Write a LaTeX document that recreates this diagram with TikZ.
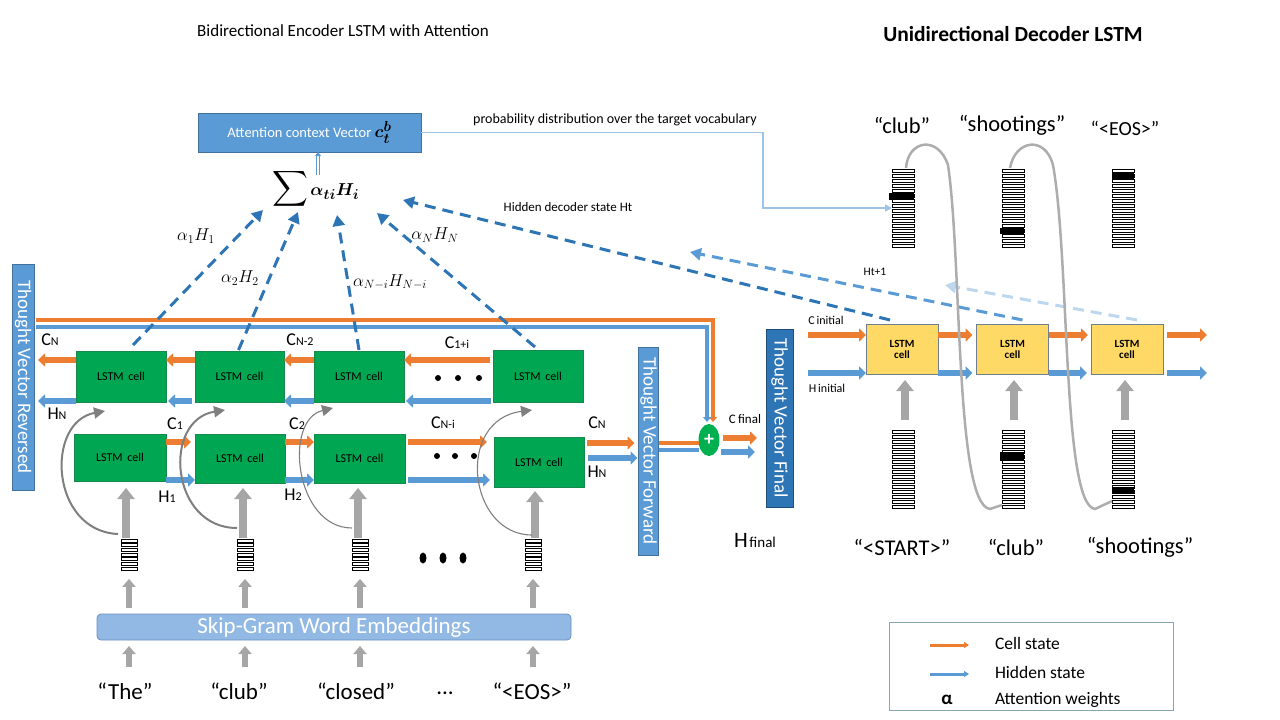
\documentclass[tikz,border=0pt]{standalone}
\usepackage{fontspec}
\setmainfont{Carlito}
\usepackage{amsmath}
\usepackage{bm}
\usetikzlibrary{arrows.meta,calc,shapes.geometric}
\definecolor{corange}{HTML}{ED7D31}
\definecolor{cblue}{HTML}{5B9BD5}
\definecolor{cbluedk}{HTML}{41719C}
\definecolor{cdash}{HTML}{2E75B6}
\definecolor{cdashlt}{HTML}{BDD7EE}
\definecolor{cfinal}{HTML}{2E75B6}
\definecolor{cfinaldk}{HTML}{1F4E79}
\definecolor{cgreen}{HTML}{00A651}
\definecolor{cgreendk}{HTML}{158A4C}
\definecolor{cplus}{HTML}{00B050}
\definecolor{cyellow}{HTML}{FFD966}
\definecolor{cycelldk}{HTML}{6F7F8F}
\definecolor{cskip}{HTML}{92B9E3}
\definecolor{cskipdk}{HTML}{6A90C0}
\definecolor{cgrayA}{HTML}{A6A6A6}
\definecolor{cgrayC}{HTML}{7F7F7F}
\definecolor{cgrayL}{HTML}{ADADAD}
\definecolor{cprob}{HTML}{9DC3E6}
\definecolor{clegend}{HTML}{86A5B5}
\newcommand{\fsz}[1]{\fontsize{#1}{#1}\selectfont}
\newcommand{\csub}[2]{{\fsz{18}#1}{\fsz{12}#2}}
\newcommand{\mystack}[6]{% name, x, ytop, ncells, cellh, width
  \node[minimum width=#6pt, minimum height=#4*#5pt, anchor=north] (#1) at (#2,#3) {};
  \foreach \k in {1,...,#4}{
    \draw[line width=0.45pt] ({#2-#6/2},{#3+(\k-1)*#5+0.9}) rectangle ({#2+#6/2},{#3+\k*#5-0.9});
  }
}
\begin{document}
\begin{tikzpicture}[x=1pt,y=-1pt,
  every node/.style={inner sep=0pt, outer sep=0pt},
  gcell/.style={draw=cgreendk, line width=0.8pt, fill=cgreen, font=\fsz{12}, text=black},
  ycell/.style={draw=cycelldk, line width=0.8pt, fill=cyellow, font=\fsz{11}\bfseries, align=center, minimum width=72pt, minimum height=50pt},
  tvbox/.style={fill=cblue, draw=cbluedk, line width=0.8pt, text=white, font=\fsz{19}, rotate=-90},
  carr/.style={draw=corange, line width=6pt, -{Triangle[length=7pt,width=13pt]}},
  harr/.style={draw=cblue, line width=6pt, -{Triangle[length=7pt,width=13pt]}},
  att/.style={draw=cdash, line width=3pt, dash pattern=on 11pt off 7pt, -{Triangle[length=11pt,width=12pt]}},
  garr/.style={draw=cgrayA, line width=8pt, -{Triangle[length=11pt,width=17pt]}},
  gsm/.style={draw=cgrayA, line width=6pt, -{Triangle[length=8pt,width=13pt]}},
  gcurve/.style={draw=cgrayC, -{Triangle[length=11pt,width=11pt]}},
  dloop/.style={draw=cgrayL, line width=2.5pt},
  lbl/.style={font=\fsz{17}},
  word/.style={font=\fsz{23}},
  dword/.style={font=\fsz{22.5}},
  small/.style={font=\fsz{12}}
]
\useasboundingbox (0,0) rectangle (1280,720);

% titles
\node[font=\fsz{17}] (t1) at (343,31) {Bidirectional Encoder LSTM with Attention};
\node[font=\fsz{21.5}\bfseries] (t2) at (1013,34) {Unidirectional Decoder LSTM};

% row coordinates
\coordinate (rCb) at (0,360);
\coordinate (rHb) at (0,401);
\coordinate (rC) at (0,442);
\coordinate (rH) at (0,480);
\coordinate (r443) at (0,443);
\coordinate (r458) at (0,458);
\coordinate (r450) at (0,450);
\coordinate (r438) at (0,438);
\coordinate (r452) at (0,452);
\coordinate (r320) at (0,320);
\coordinate (r327) at (0,327);
\coordinate (r335) at (0,335);
\coordinate (r373) at (0,373);
\coordinate (wrow) at (0,667);

% thought vector boxes (rotated: north = east side, south = west side)
\node[tvbox, minimum width=226pt, minimum height=22pt] (TVR) at (23,377) {Thought Vector Reversed};
\node[tvbox, minimum width=208pt, minimum height=20pt] (TVF) at (648.5,451) {Thought Vector Forward};
\node[tvbox, fill=cfinal, draw=cfinaldk, minimum width=178pt, minimum height=27pt] (TVFi) at (779.5,418) {Thought Vector Final};

% long top lines to the plus
\node[ellipse, fill=cplus, minimum width=21pt, minimum height=32pt, text=white, font=\fsz{20}\bfseries] (P) at (709,440) {+};
\draw[draw=corange, line width=3.5pt, -{Triangle[length=5pt,width=8pt]}] ([xshift=2pt]TVR.north |- r320) -| ($(P.north)+(4,-2)$);
\draw[draw=cblue, line width=3.5pt, -{Triangle[length=5pt,width=8pt]}] ([xshift=2pt]TVR.north |- r327) -| ($(P.north)+(-2,-2)$);

% encoder cells
\node[gcell, minimum width=90pt, minimum height=51pt] (B1) at (121,376.5) {LSTM\,\ cell};
\node[gcell, minimum width=89pt, minimum height=51pt] (B2) at (239.5,376.5) {LSTM\,\ cell};
\node[gcell, minimum width=90pt, minimum height=51pt] (B3) at (359,376.5) {LSTM\,\ cell};
\node[gcell, minimum width=90pt, minimum height=52pt] (B4) at (538,376) {LSTM\,\ cell};
\node[gcell, minimum width=92pt, minimum height=47pt] (F1) at (120,457.5) {LSTM\,\ cell};
\node[gcell, minimum width=90pt, minimum height=49pt] (F2) at (240,458.5) {LSTM\,\ cell};
\node[gcell, minimum width=91pt, minimum height=49pt] (F3) at (359.5,458.5) {LSTM\,\ cell};
\node[gcell, minimum width=90pt, minimum height=50pt] (F4) at (539,462) {LSTM\,\ cell};

% backward row arrows
\coordinate (bout) at (38,360);
\coordinate (bouth) at (38,401);
\draw[carr] (B1.west |- rCb) -- (bout);
\draw[harr] (B1.west |- rHb) -- (bouth);
\draw[carr] (B2.west |- rCb) -- (B1.east |- rCb);
\draw[harr] ([xshift=-3pt]B2.west |- rHb) -- ([xshift=2pt]B1.east |- rHb);
\draw[carr] (B3.west |- rCb) -- (B2.east |- rCb);
\draw[harr] (B3.west |- rHb) -- (B2.east |- rHb);
\draw[carr] ([xshift=-3pt]B4.west |- rCb) -- (B3.east |- rCb);
\draw[harr] ([xshift=-2pt]B4.west |- rHb) -- ([xshift=2pt]B3.east |- rHb);
\foreach \xx in {438,458,479} \fill (\xx,378) circle (3);

% forward row arrows
\draw[carr, shorten >=4pt] (F1.east |- rC) -- (F2.west |- rC);
\draw[harr] (F1.east |- rH) -- (F2.west |- rH);
\draw[carr] (F2.east |- rC) -- (F3.west |- rC);
\draw[harr] (F2.east |- rH) -- (F3.west |- rH);
\draw[carr, shorten <=3pt, shorten >=7pt] (F3.east |- rC) -- (F4.west |- rC);
\draw[harr, shorten <=3pt, shorten >=4pt] (F3.east |- rH) -- (F4.west |- rH);
\foreach \xx in {437,455,474} \fill (\xx,456) circle (3);
\draw[carr, shorten <=3pt, shorten >=4pt] (F4.east |- r443) -- (TVF.south |- r443);
\draw[harr, shorten <=4pt, shorten >=1pt] (F4.east |- r458) -- (TVF.south |- r458);

% forward thought vector to plus and to final
\draw[draw=corange, line width=3.5pt] (TVF.north |- r443) -- (P.west |- r443);
\draw[draw=cblue, line width=3.5pt] (TVF.north |- r450) -- (P.west |- r450);
\draw[carr, shorten <=3pt, shorten >=9pt] (P.east |- r438) -- (TVFi.south |- r438);
\draw[harr, shorten <=1pt, shorten >=11pt] (P.east |- r452) -- (TVFi.south |- r452);

% encoder labels
\node (lcn) at (50,340) {\csub{C}{N}};
\node (lhn) at (57,414) {\csub{H}{N}};
\node (lcn2) at (300,340) {\csub{C}{N-2}};
\node (lc1i) at (457,343) {\csub{C}{1+i}};
\node (lc1) at (175,424) {\csub{C}{1}};
\node (lh1) at (167,497) {\csub{H}{1}};
\node (lc2) at (297,424) {\csub{C}{2}};
\node (lh2) at (293,495) {\csub{H}{2}};
\node (lcni) at (443,423) {\csub{C}{N-i}};
\node (lcnf) at (597,423) {\csub{C}{N}};
\node (lhnf) at (597,472) {\csub{H}{N}};
\node[font=\fsz{13}] (lcfin) at (745,419) {C\,final};
\node (lhfin) at (755,540) {{\fsz{22}H}\,{\fsz{15}final}};

% embedding vectors (encoder)
\mystack{E1}{129}{538}{7}{4.7}{16}
\mystack{E2}{245}{538}{7}{4.7}{16}
\mystack{E3}{360}{538}{7}{4.7}{16}
\mystack{E4}{533}{538}{7}{4.7}{16}
\foreach \xx in {423,443,463} \fill (\xx,558) ellipse (3.5 and 5.5);

% gray input arrows (encoder)
\draw[garr, shorten >=7pt] ([xshift=-3pt]E1.north) -- ([xshift=-3pt]E1.north |- F1.south);
\draw[garr, shorten >=5pt] ([xshift=-2pt]E2.north) -- ([xshift=-2pt]E2.north |- F2.south);
\draw[garr, shorten >=5pt] ([xshift=-2pt]E3.north) -- ([xshift=-2pt]E3.north |- F3.south);
\draw[garr, shorten >=4pt] ([xshift=2pt]E4.north) -- ([xshift=2pt]E4.north |- F4.south);

% curved gray arrows
\coordinate (g1s) at (118,534); \coordinate (g1e) at (105,411);
\coordinate (g2s) at (237,528); \coordinate (g2e) at (225,410);
\coordinate (g3s) at (352,528); \coordinate (g3e) at (333,408);
\coordinate (g4s) at (532,535); \coordinate (g4e) at (532,410);
\draw[gcurve, line width=2pt] (g1s) .. controls (50,531) and (45,422) .. (g1e);
\draw[gcurve, line width=2pt] (g2s) .. controls (170,528) and (162,420) .. (g2e);
\draw[gcurve, line width=1.1pt] (g3s) .. controls (295,528) and (283,420) .. (g3e);
\draw[gcurve, line width=1.1pt] (g4s) .. controls (468,535) and (455,420) .. (g4e);

% skip-gram box and words
\node[draw=cskipdk, line width=0.8pt, fill=cskip, rounded corners=4pt, minimum width=474pt, minimum height=26pt, text=white, font=\fsz{23}] (K) at (334,627) {Skip-Gram Word Embeddings};
\foreach \e in {E1,E2,E3,E4}{
  \draw[gsm, shorten <=6pt, shorten >=8pt] (\e.south |- K.north) -- (\e.south);
  \draw[gsm, shorten >=6pt] (\e.south |- wrow) -- (\e.south |- K.south);
}
\node[word] (w1) at (125,691) {“The”};
\node[word] (w2) at (239,691) {“club”};
\node[word] (w3) at (356,691) {“closed”};
\node[word] (w4) at (445,693) {...};
\node[word] (w5) at (532,691) {“<EOS>”};

% attention part
\node[fill=cblue, draw=cbluedk, line width=0.8pt, minimum width=223pt, minimum height=39pt, text=white, font=\fsz{14.5}] (A) at (309.5,132.5) {Attention context Vector \textcolor{black}{\fsz{19}$\bm{c_t^b}$}};
\node (S) at (316,189) {{\fsz{25}$\displaystyle\sum$}\,{\fsz{19}$\bm{\alpha_{ti}H_i}$}};
\coordinate (sa) at (318,175);
\draw[draw=cblue, line width=1pt, double distance=1.6pt, -{Triangle[length=4pt,width=6pt]}] (sa) -- (sa |- A.south);

\node[font=\fsz{17}] (la1) at (196,236) {$\alpha_1H_1$};
\node[font=\fsz{17}] (la2) at (240,278) {$\alpha_2H_2$};
\node[font=\fsz{17}] (la3) at (390,282) {$\alpha_{N-i}H_{N-i}$};
\node[font=\fsz{17}] (la4) at (435,235) {$\alpha_NH_N$};

\coordinate (s1) at (263,210);
\coordinate (s2) at (298,212);
\coordinate (s3) at (337,215);
\coordinate (s4) at (377,213);
\coordinate (s5) at (403,200);
\coordinate (s6) at (690,252);
\coordinate (s7) at (945,285);
\draw[att] ($(B1.north)+(12,-6)$) -- (s1);
\draw[att] ($(B2.north)+(-1,-1)$) -- (s2);
\draw[att] ($(B3.north)+(0,-1)$) -- (s3);
\draw[att] ($(B4.north)+(-3,-3)$) -- (s4);

% decoder
\node[ycell] (D1) at (902,349) {LSTM\\cell};
\node[ycell] (D2) at (1012.5,349) {LSTM\\cell};
\node[ycell] (D3) at (1127,349) {LSTM\\cell};

\draw[att] ($(D1.north)+(-12,-4)$) -- (s5);
\draw[att, draw=cblue] ($(D2.north)+(10,-4)$) -- (s6);
\draw[att, draw=cdashlt] ($(D3.north)+(10,-4)$) -- (s7);
\node[font=\fsz{13}] (lht) at (568,207) {Hidden decoder state Ht};
\node[font=\fsz{11.5}] (lht1) at (875,272) {Ht+1};

\coordinate (cin) at (808,335);
\coordinate (hin) at (808,373);
\coordinate (cout) at (1207,335);
\coordinate (hout) at (1207,373);
\draw[carr] (cin) -- (D1.west |- r335);
\draw[harr] (hin) -- (D1.west |- r373);
\draw[carr, shorten >=4pt] (D1.east |- r335) -- (D2.west |- r335);
\draw[harr, shorten >=4pt] (D1.east |- r373) -- (D2.west |- r373);
\draw[carr, shorten >=3pt] (D2.east |- r335) -- (D3.west |- r335);
\draw[harr, shorten >=4pt] (D2.east |- r373) -- (D3.west |- r373);
\draw[carr, shorten <=4pt] (D3.east |- r335) -- (cout);
\draw[harr, shorten <=4pt] (D3.east |- r373) -- (hout);
\node[small] (lcin) at (826,320) {C\,initial};
\node[small] (lhin) at (827,388) {H\,initial};

% decoder vectors
\mystack{Vo1}{903}{168}{16}{5}{22}
\mystack{Vo2}{1013}{168}{16}{5}{22}
\mystack{Vo3}{1123}{168}{16}{5}{22}
\mystack{Vi1}{903}{429}{16}{5}{22}
\mystack{Vi2}{1013}{429}{16}{5}{22}
\mystack{Vi3}{1123}{429}{16}{5}{22}
\fill (889,193) rectangle (914,200);
\fill (1000,228) rectangle (1024,234);
\fill (1112,172) rectangle (1134,179);
\fill (1000,452) rectangle (1024,461);
\fill (1112,487) rectangle (1134,494);

\draw[garr, shorten <=9pt, shorten >=6pt] ([xshift=2pt]Vi1.north) -- ([xshift=2pt]Vi1.north |- D1.south);
\draw[garr, shorten <=9pt, shorten >=6pt] ([xshift=1pt]Vi2.north) -- ([xshift=1pt]Vi2.north |- D2.south);
\draw[garr, shorten <=9pt, shorten >=6pt] ([xshift=2pt]Vi3.north) -- ([xshift=2pt]Vi3.north |- D3.south);

% probability line
\node[font=\fsz{14}] (lprob) at (615,120) {probability distribution over the target vocabulary};
\coordinate (pt1) at (763,208);
\draw[draw=cprob, line width=1.5pt, -{Triangle[length=7pt,width=7pt]}] (A.east) -| (pt1) -- (pt1 -| Vo1.west);

% decoder loops
\draw[dloop] ($(Vo1.north)+(3,0)$) .. controls (908,140) and (938,135) .. (948,165) .. controls (962,260) and (955,505) .. (990,509) -- ($(Vi2.south west)+(0,-4)$);
\draw[dloop] ($(Vo2.north)+(-3,0)$) .. controls (1015,140) and (1045,135) .. (1053,165) .. controls (1070,260) and (1062,505) .. (1095,509) -- ($(Vi3.south west)+(0,-8)$);

% decoder words
\node[dword] (d1) at (902,125) {“club”};
\node[dword] (d2) at (1012,125) {“shootings”};
\node[font=\fsz{20}] (d3) at (1125,128) {“<EOS>”};
\node[dword] (d4) at (902,547) {“<START>”};
\node[dword] (d5) at (1016,547) {“club”};
\node[dword] (d6) at (1140,547) {“shootings”};

% legend
\node[draw=clegend, line width=1pt, minimum width=284pt, minimum height=88pt] (L) at (1031,666) {};
\coordinate (lo1) at (930,645); \coordinate (lo2) at (969,645);
\coordinate (lb1) at (930,674); \coordinate (lb2) at (969,674);
\draw[draw=corange, line width=3pt, -{Triangle[length=5pt,width=6pt]}] (lo1) -- (lo2);
\draw[draw=cblue, line width=3pt, -{Triangle[length=5pt,width=6pt]}] (lb1) -- (lb2);
\node[font=\fsz{17.5}, anchor=west] (lg1) at (995,643) {Cell state};
\node[font=\fsz{17.5}, anchor=west] (lg2) at (995,672) {Hidden state};
\node[font=\fsz{17.5}, anchor=west] (lg3) at (995,700) {Attention weights};
\node[font=\fsz{19}\bfseries] (lga) at (947,700) {α};
\end{tikzpicture}
\end{document}
